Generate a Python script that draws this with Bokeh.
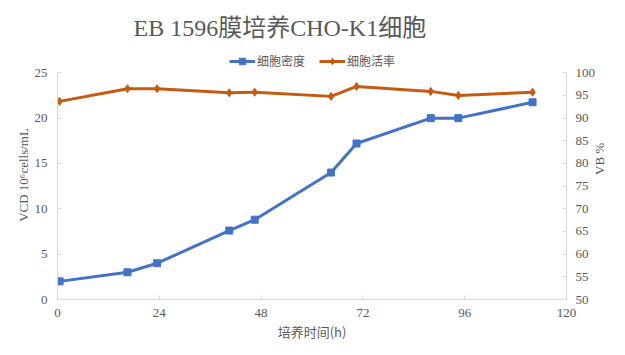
import math
from bokeh.plotting import figure
from bokeh.models import Range1d, LinearAxis, Legend, LegendItem, FixedTicker
from bokeh.embed import file_html
from bokeh.resources import INLINE

# ---- data ----
hours = [0.5, 16.5, 23.5, 40.5, 46.5, 64.5, 70.5, 88, 94.5, 112]
density = [2.0, 3.0, 4.0, 7.6, 8.8, 14.0, 17.2, 20.0, 20.0, 21.75]
viability = [93.7, 96.5, 96.5, 95.6, 95.7, 94.8, 97.0, 95.9, 95.0, 95.7]
x_ticks = [0, 24, 48, 72, 96, 120]
vcd_ticks = [0, 5, 10, 15, 20, 25]
vb_ticks = [50, 55, 60, 65, 70, 75, 80, 85, 90, 95, 100]

title_text = "EB 1596膜培养CHO-K1细胞"
series_names = ["细胞密度", "细胞活率"]
x_label = "培养时间(h)"
y_label = "VCD 10⁶cells/mL"
y2_label = "VB %"

BLUE = "#4472C4"
ORANGE = "#C55A11"
TXT = "#595959"
AX = "#D9D9D9"
SERIF = "'Liberation Serif', 'Noto Sans CJK SC'"
CJK = "'Noto Sans CJK SC', 'Liberation Serif'"

# frame extends above the axes' top (25 / 100) to hold the legend
FRAME_H = 249
AXIS_H = 226.7
vcd_top = vcd_ticks[-1] * FRAME_H / AXIS_H
vb_top = vb_ticks[0] + (vb_ticks[-1] - vb_ticks[0]) * FRAME_H / AXIS_H

p = figure(width=617, height=347, output_backend="svg", toolbar_location=None,
           x_range=Range1d(x_ticks[0], x_ticks[-1]), y_range=Range1d(0, vcd_top),
           min_border_left=57, min_border_right=49, min_border_top=50, min_border_bottom=48)
p.extra_y_ranges = {"vb": Range1d(vb_ticks[0], vb_top)}

p.xgrid.visible = False
p.ygrid.visible = False
p.outline_line_color = None

p.title.text = title_text
p.title.text_font = SERIF
p.title.text_font_size = "24px"
p.title.text_font_style = "normal"
p.title.text_color = TXT
p.title.align = "left"
p.title.offset = 76
p.title.standoff = 19

def style_axis(ax, label, standoff):
    ax.axis_label = label
    ax.axis_label_text_font = SERIF
    ax.axis_label_text_font_size = "13px"
    ax.axis_label_text_font_style = "normal"
    ax.axis_label_text_color = TXT
    ax.axis_label_standoff = standoff
    ax.major_label_text_font = SERIF
    ax.major_label_text_font_size = "13px"
    ax.major_label_text_color = TXT
    ax.axis_line_color = AX
    ax.major_tick_line_color = AX
    ax.major_tick_in = 4
    ax.major_tick_out = 0
    ax.minor_tick_line_color = None

p.xaxis.ticker = FixedTicker(ticks=x_ticks)
p.yaxis.ticker = FixedTicker(ticks=vcd_ticks)
style_axis(p.xaxis[0], x_label, 2)
p.xaxis[0].major_label_standoff = 9
p.xaxis[0].axis_label_text_font = CJK
style_axis(p.yaxis[0], y_label, 1)
p.yaxis[0].major_label_standoff = 10
p.yaxis[0].bounds = (vcd_ticks[0], vcd_ticks[-1])

ax2 = LinearAxis(y_range_name="vb", ticker=FixedTicker(ticks=vb_ticks))
style_axis(ax2, y2_label, 1)
ax2.major_label_standoff = 9
ax2.bounds = (vb_ticks[0], vb_ticks[-1])
ax2.axis_label_orientation = math.pi / 2
p.add_layout(ax2, "right")

l1 = p.line(hours, density, line_color=BLUE, line_width=3)
m1 = p.scatter(hours, density, marker="square", size=7, fill_color=BLUE, line_color=BLUE)
l2 = p.line(hours, viability, line_color=ORANGE, line_width=3, y_range_name="vb")
m2 = p.scatter(hours, viability, marker="diamond", size=8, fill_color=ORANGE, line_color=ORANGE,
               y_range_name="vb")

legend = Legend(items=[LegendItem(label=series_names[0], renderers=[l1, m1]),
                       LegendItem(label=series_names[1], renderers=[l2, m2])],
                orientation="horizontal", location=(172, 230),
                label_text_font=CJK, label_text_font_size="12px", label_text_color=TXT,
                glyph_width=26, glyph_height=16, label_height=16, label_standoff=2,
                spacing=14, padding=2, margin=0,
                border_line_color=None, background_fill_alpha=0)
p.add_layout(legend, "center")

open("out.html", "w").write(file_html(p, INLINE))
